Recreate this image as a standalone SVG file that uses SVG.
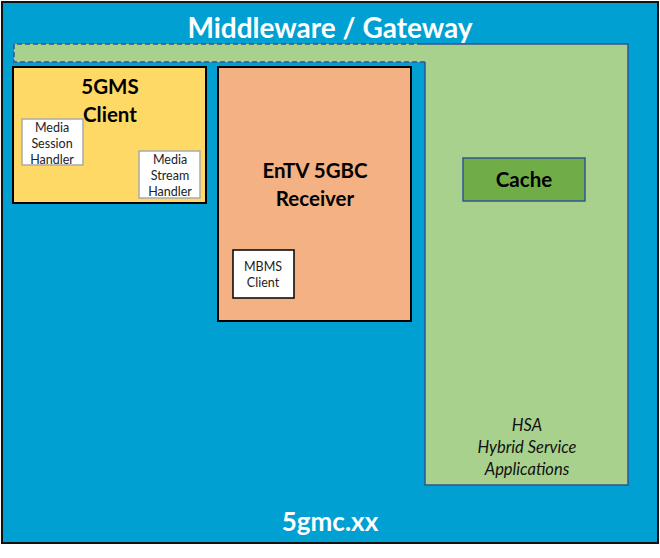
<svg xmlns="http://www.w3.org/2000/svg" width="660" height="558" viewBox="0 0 660 558">
<style>
.t{font-family:Lato,"Liberation Sans",sans-serif;text-anchor:middle}
.big{font-weight:bold;font-size:20.5px;fill:#000}
.wt{font-weight:bold;fill:#fff}
.sm{font-size:12.5px;fill:#222}
.it{font-style:italic;font-size:16.5px;fill:#111}
.box{stroke:#000;stroke-width:2}
.sub{fill:#fff;stroke:#aaa;stroke-width:1.5}
</style>
<rect width="660" height="558" fill="#fff"/>
<g id="outer">
<rect x="2" y="2" width="656" height="541" fill="#00A0D2" stroke="#111" stroke-width="2"/>
<text class="t wt" x="330" y="38" font-size="28">Middleware / Gateway</text>
<text class="t wt" x="330" y="531" font-size="26">5gmc.xx</text>
</g>
<g id="hsa">
<path d="M425,62 V485 H628 V44 H14 V62 Z" fill="#A9D18E" stroke="none"/>
<path d="M417,44 H628 V485 H425 V62" fill="none" stroke="#2F5597" stroke-width="1.5"/>
<path d="M425,62 H14 V44 H417" fill="none" stroke="#2F5597" stroke-width="1.5" stroke-dasharray="5,3"/>
<text class="t it" x="527" y="431">HSA</text>
<text class="t it" x="527" y="453">Hybrid Service</text>
<text class="t it" x="527" y="475">Applications</text>
</g>
<g id="cache">
<rect x="463" y="158" width="122" height="43" fill="#70AD47" stroke="#2F5597" stroke-width="1.5"/>
<text class="t big" x="524" y="187">Cache</text>
</g>
<g id="gms">
<rect class="box" x="13" y="67" width="193" height="136" fill="#FFD966"/>
<text class="t big" x="110" y="94">5GMS</text>
<text class="t big" x="110" y="122">Client</text>
</g>
<g id="msh">
<rect class="sub" x="22" y="119" width="61" height="46"/>
<text class="t sm" x="52" y="132">Media</text>
<text class="t sm" x="52" y="148">Session</text>
<text class="t sm" x="52" y="164">Handler</text>
</g>
<g id="mstrh">
<rect class="sub" x="139" y="151" width="61" height="47"/>
<text class="t sm" x="170" y="164">Media</text>
<text class="t sm" x="170" y="180">Stream</text>
<text class="t sm" x="170" y="196">Handler</text>
</g>
<g id="entv">
<rect class="box" x="218" y="67" width="193" height="254" fill="#F4B183"/>
<text class="t big" x="315" y="178">EnTV 5GBC</text>
<text class="t big" x="315" y="206">Receiver</text>
</g>
<g id="mbms">
<rect x="233" y="250" width="61" height="48" fill="#fff" stroke="#000" stroke-width="1.5"/>
<text class="t sm" x="263" y="271">MBMS</text>
<text class="t sm" x="263" y="287">Client</text>
</g>
<g id="connectors"></g>
</svg>
